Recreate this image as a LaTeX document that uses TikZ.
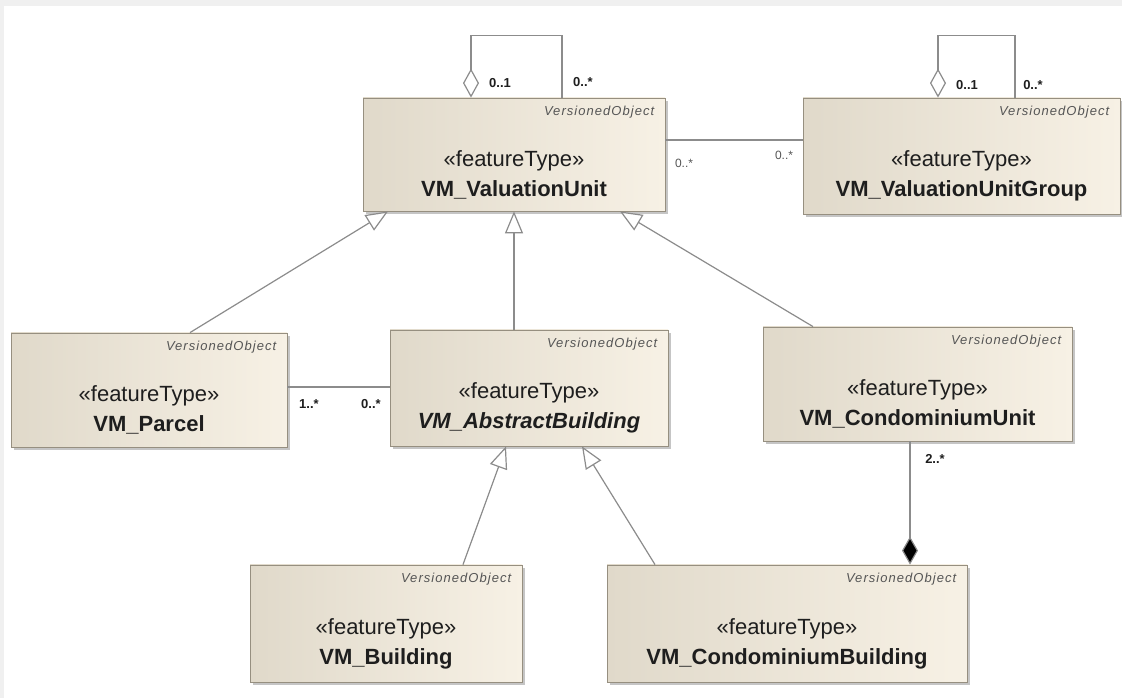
\documentclass[tikz,border=0pt]{standalone}
\usepackage{fontspec}
\setmainfont{Liberation Sans}
\usetikzlibrary{arrows.meta,shadows}

\definecolor{boxL}{RGB}{224,217,202}
\definecolor{boxR}{RGB}{247,241,229}
\definecolor{boxEdge}{RGB}{150,143,128}
\definecolor{lineGrey}{RGB}{140,140,140}
\definecolor{txt}{RGB}{30,30,30}
\definecolor{voGrey}{RGB}{85,85,85}

\begin{document}
\begin{tikzpicture}[x=1pt,y=1pt,
  cls/.style={draw=boxEdge, line width=0.8pt, left color=boxL, right color=boxR,
    drop shadow={shadow xshift=3pt, shadow yshift=-3pt, fill=black!45, opacity=0.5}},
  vo/.style={anchor=north east, inner sep=0pt, xshift=-11pt, yshift=-8pt, text=voGrey,
    font=\fontsize{13}{15}\selectfont\itshape\addfontfeature{LetterSpace=8}},
  ft/.style={align=center, inner sep=0pt, yshift=-20pt, text=txt, font=\fontsize{22}{30}\selectfont},
  conn/.style={draw=lineGrey, line width=1.2pt},
  gen/.style={conn, -{Triangle[open, length=22pt, width=18pt, fill=white]}},
  aggr/.style={conn, {Diamond[open, length=29pt, width=16pt, fill=white]}-},
  comp/.style={conn, -{Diamond[length=28pt, width=16pt, fill=black]}},
  mult/.style={inner sep=0pt, text=txt, font=\fontsize{13}{15}\selectfont\bfseries},
  multr/.style={inner sep=0pt, text=voGrey, font=\fontsize{12}{14}\selectfont}]

  % frame
  \useasboundingbox (0,0) rectangle (1122,698);
  \fill[gray!12] (0,0) rectangle (1122,698);
  \fill[white] (4,0) rectangle (1122,692);

  % classes
  \node[cls, minimum width=302pt, minimum height=113pt] (vu) at (514,543.5) {};
  \node[vo] (vuVo) at (vu.north east) {VersionedObject};
  \node[ft] (vuTxt) at (vu.center) {«featureType»\\\textbf{VM\_ValuationUnit}};

  \node[cls, minimum width=317pt, minimum height=116pt] (vug) at (961.5,542) {};
  \node[vo] (vugVo) at (vug.north east) {VersionedObject};
  \node[ft] (vugTxt) at (vug.center) {«featureType»\\\textbf{VM\_ValuationUnitGroup}};

  \node[cls, minimum width=276pt, minimum height=114pt] (parcel) at (149,308) {};
  \node[vo] (parcelVo) at (parcel.north east) {VersionedObject};
  \node[ft] (parcelTxt) at (parcel.center) {«featureType»\\\textbf{VM\_Parcel}};

  \node[cls, minimum width=278pt, minimum height=116pt] (absb) at (529,310) {};
  \node[vo] (absbVo) at (absb.north east) {VersionedObject};
  \node[ft] (absbTxt) at (absb.center) {«featureType»\\\textbf{\textit{VM\_AbstractBuilding}}};

  \node[cls, minimum width=309pt, minimum height=114pt] (cunit) at (917.5,314) {};
  \node[vo] (cunitVo) at (cunit.north east) {VersionedObject};
  \node[ft] (cunitTxt) at (cunit.center) {«featureType»\\\textbf{VM\_CondominiumUnit}};

  \node[cls, minimum width=272pt, minimum height=117pt] (bldg) at (386,74.5) {};
  \node[vo] (bldgVo) at (bldg.north east) {VersionedObject};
  \node[ft] (bldgTxt) at (bldg.center) {«featureType»\\\textbf{VM\_Building}};

  \node[cls, minimum width=360pt, minimum height=117pt] (cbldg) at (787,74.5) {};
  \node[vo] (cbldgVo) at (cbldg.north east) {VersionedObject};
  \node[ft] (cbldgTxt) at (cbldg.center) {«featureType»\\\textbf{VM\_CondominiumBuilding}};

  % self aggregations
  \draw[aggr] ([xshift=-43pt]vu.north) -- ++(0,62) -| ([xshift=48pt]vu.north);
  \draw[aggr] ([xshift=-23.5pt]vug.north) -- ++(0,62) -| ([xshift=53.5pt]vug.north);

  % associations
  \coordinate (a1) at ([yshift=14.5pt]vu.east);
  \draw[conn] (a1) -- (a1 -| vug.west);
  \coordinate (a2) at ([yshift=3pt]parcel.east);
  \draw[conn] (a2) -- (a2 -| absb.west);
  \coordinate (a3) at ([xshift=-7.5pt]cunit.south);
  \draw[comp] (a3) -- (a3 |- cbldg.north);

  % generalizations
  \draw[gen] ([xshift=41pt]parcel.north) -- ([xshift=-126pt]vu.south);
  \draw[gen] (vu.south |- absb.north) -- (vu.south);
  \draw[gen] ([xshift=-104.5pt]cunit.north) -- ([xshift=106pt]vu.south);
  \draw[gen] ([xshift=77pt]bldg.north) -- ([xshift=-23pt]absb.south);
  \draw[gen] ([xshift=-132pt]cbldg.north) -- ([xshift=53pt]absb.south);

  % multiplicities
  \node[mult] (m1) at (500,615) {0..1};
  \node[mult] (m2) at (583,616) {0..*};
  \node[mult] (m3) at (967,613) {0..1};
  \node[mult] (m4) at (1033,613) {0..*};
  \node[multr] (m5) at (684,535) {0..*};
  \node[multr] (m6) at (784,543) {0..*};
  \node[mult] (m7) at (309,294) {1..*};
  \node[mult] (m8) at (371,294) {0..*};
  \node[mult] (m9) at (935,239) {2..*};
\end{tikzpicture}
\end{document}
